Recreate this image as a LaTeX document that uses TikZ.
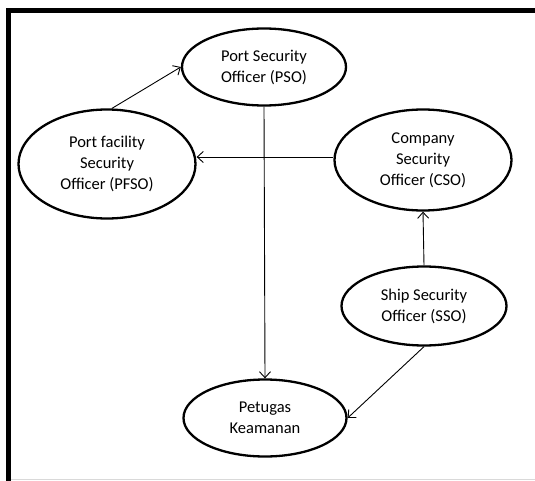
\documentclass[tikz,border=0pt]{standalone}
\usepackage{fontspec}
\setmainfont{Carlito}
\usetikzlibrary{shapes.geometric,arrows.meta}
\begin{document}
\begin{tikzpicture}[x=1pt,y=-1pt,
  role/.style={ellipse,draw=black,line width=2.3pt,inner sep=0pt,align=center,
    font=\fontsize{16.5}{21}\selectfont},
  link/.style={line width=0.9pt,-{Straight Barb[length=6pt,width=11pt,line width=0.9pt]}}]
\useasboundingbox (0,0) rectangle (535,481);
% frame
\draw[line width=5pt] (8.5,481) -- (8.5,10.5) -- (535,10.5);
\draw[line width=1.5pt,black!15] (11,479.5) -- (535,479.5);
% nodes
\node[role,minimum width=164pt,minimum height=77pt] (pso) at (264,67) {Port Security\\Officer (PSO)};
\node[role,minimum width=177pt,minimum height=109pt] (pfso) at (107,164) {Port facility\\Security\\Officer (PFSO)};
\node[role,minimum width=177pt,minimum height=101pt] (cso) at (423,160) {Company\\Security\\Officer (CSO)};
\node[role,minimum width=165pt,minimum height=79pt] (sso) at (424,306) {Ship Security\\Officer (SSO)};
\node[role,minimum width=163pt,minimum height=77pt] (pet) at (265,418) {Petugas\\Keamanan};
% connectors
\draw[link] (pfso.85) -- (pso.west);
\draw[link] ([yshift=3pt]cso.west) -- ([yshift=3pt]cso.west -| pfso.east);
\draw[link] (pso.south) -- (pet.north);
\draw[link] (sso.north) -- (cso.south);
\draw[link] (sso.south) -- (pet.east);
\end{tikzpicture}
\end{document}
